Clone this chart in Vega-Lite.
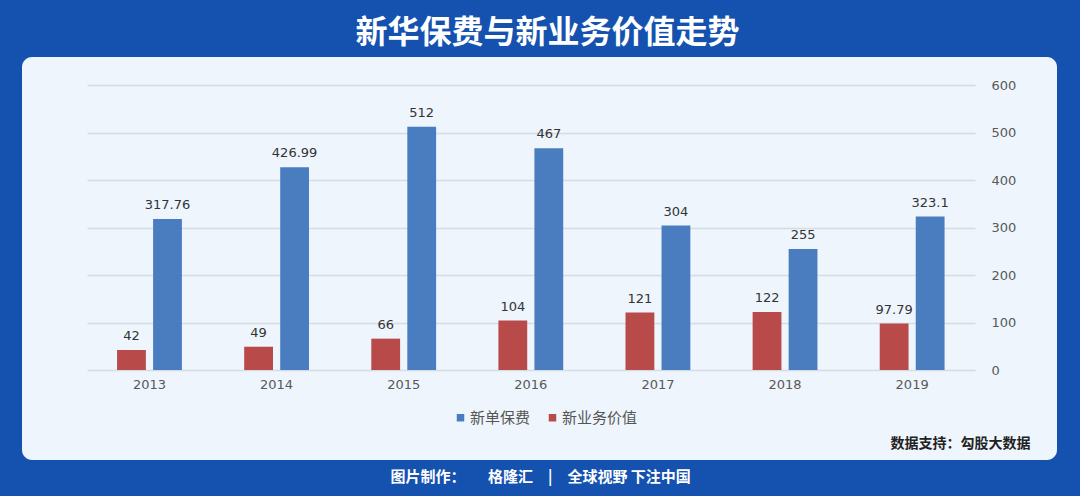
{
  "$schema": "https://vega.github.io/schema/vega-lite/v6.json",
  "autosize": {"type": "none"},
  "width": 1035,
  "height": 403,
  "padding": {"left": 22, "top": 57, "right": 23, "bottom": 36},
  "background": "#1552b0",
  "title": {
    "text": "新华保费与新业务价值走势",
    "anchor": "middle",
    "color": "#ffffff",
    "font": "Noto Sans CJK SC",
    "fontSize": 32,
    "fontWeight": "bold",
    "offset": 7,
    "dx": 8
  },
  "data": {
    "values": [
      {"year": "2013", "series": "新单保费", "value": 317.76},
      {"year": "2013", "series": "新业务价值", "value": 42},
      {"year": "2014", "series": "新单保费", "value": 426.99},
      {"year": "2014", "series": "新业务价值", "value": 49},
      {"year": "2015", "series": "新单保费", "value": 512},
      {"year": "2015", "series": "新业务价值", "value": 66},
      {"year": "2016", "series": "新单保费", "value": 467},
      {"year": "2016", "series": "新业务价值", "value": 104},
      {"year": "2017", "series": "新单保费", "value": 304},
      {"year": "2017", "series": "新业务价值", "value": 121},
      {"year": "2018", "series": "新单保费", "value": 255},
      {"year": "2018", "series": "新业务价值", "value": 122},
      {"year": "2019", "series": "新单保费", "value": 323.1},
      {"year": "2019", "series": "新业务价值", "value": 97.79}
    ]
  },
  "encoding": {
    "x": {
      "field": "year",
      "type": "nominal",
      "scale": {"range": [82, 970], "paddingInner": 0.49, "paddingOuter": 0.238, "align": 0.216},
      "axis": {
        "orient": "bottom",
        "offset": -90,
        "labelAngle": 0,
        "labelPadding": 8,
        "labelColor": "#595959",
        "labelFontSize": 13,
        "labelFont": "DejaVu Sans",
        "domain": false,
        "ticks": false,
        "grid": false,
        "title": "数据支持：勾股大数据",
        "titleX": 1008,
        "titleY": 77,
        "titleAlign": "right",
        "titleBaseline": "alphabetic",
        "titleFont": "Noto Sans CJK SC",
        "titleFontSize": 14,
        "titleFontWeight": "bold",
        "titleColor": "#222222"
      }
    },
    "xOffset": {
      "field": "series",
      "type": "nominal",
      "sort": ["新业务价值", "新单保费"],
      "scale": {"paddingInner": 0.2}
    },
    "y": {
      "field": "value",
      "type": "quantitative",
      "scale": {"domain": [0, 600], "range": [313, 28], "nice": false, "zero": true},
      "axis": {
        "orient": "right",
        "offset": -69,
        "values": [0, 100, 200, 300, 400, 500, 600],
        "grid": true,
        "gridColor": "#d6dce4",
        "gridWidth": 1.5,
        "domain": false,
        "ticks": false,
        "labelPadding": 3,
        "labelColor": "#595959",
        "labelFontSize": 13,
        "labelFont": "DejaVu Sans",
        "title": "图片制作：　　格隆汇　|　全球视野 下注中国",
        "titleAngle": 0,
        "titleX": -598,
        "titleY": 424,
        "titleAlign": "left",
        "titleBaseline": "alphabetic",
        "titleFont": "Noto Sans CJK SC",
        "titleFontSize": 15,
        "titleFontWeight": "bold",
        "titleColor": "#ffffff"
      }
    }
  },
  "layer": [
    {
      "mark": {"type": "bar"},
      "encoding": {
        "color": {
          "field": "series",
          "type": "nominal",
          "scale": {"domain": ["新单保费", "新业务价值"], "range": ["#4a7dbf", "#b84a4a"]},
          "legend": {
            "orient": "none",
            "legendX": 431,
            "legendY": 353,
            "direction": "horizontal",
            "title": null,
            "symbolType": "square",
            "symbolSize": 56,
            "symbolStrokeWidth": 0,
            "labelFont": "Noto Sans CJK SC",
            "labelFontSize": 15,
            "labelColor": "#555555",
            "labelOffset": 2,
            "columnPadding": 14
          }
        }
      }
    },
    {
      "mark": {
        "type": "text",
        "baseline": "bottom",
        "dy": -7,
        "fontSize": 13,
        "font": "DejaVu Sans",
        "color": "#333333"
      },
      "encoding": {
        "text": {"field": "value", "type": "quantitative", "format": ""}
      }
    }
  ],
  "config": {
    "view": {"fill": "#eef5fd", "stroke": null, "cornerRadius": 10}
  }
}
